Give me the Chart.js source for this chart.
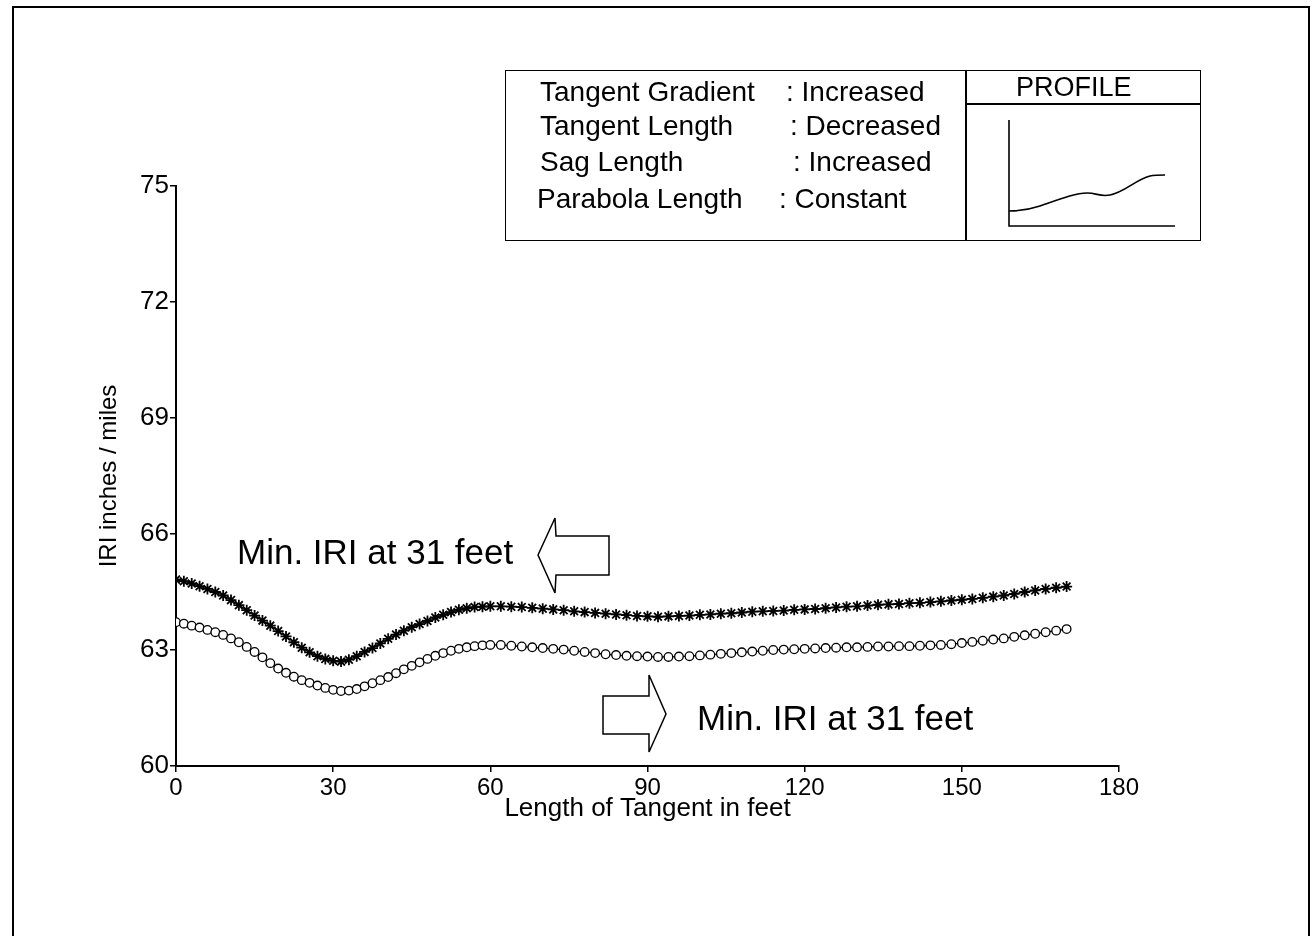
<!DOCTYPE html>
<html><head><meta charset="utf-8">
<script src="https://cdn.jsdelivr.net/npm/chart.js@4.4.0/dist/chart.umd.min.js"></script>
<style>
body{margin:0;background:#fff;}
#wrap{position:relative;width:1315px;height:936px;overflow:hidden;font-family:"Liberation Sans",Arial,sans-serif;color:#000;background:#fff;}
canvas{position:absolute;left:0;top:0;}
.t{position:absolute;white-space:nowrap;line-height:1;}
.box{position:absolute;border:1.5px solid #000;box-sizing:border-box;}
.ln{position:absolute;background:#000;}
</style></head>
<body><div id="wrap">
<canvas id="c" width="1315" height="936"></canvas>
<div class="box" style="left:12px;top:6px;width:1298px;height:960px;border-width:2px;"></div>
<div class="box" style="left:505px;top:70px;width:696px;height:171px;"></div>
<div class="ln" style="left:965px;top:70px;width:1.5px;height:171px;"></div>
<div class="ln" style="left:966px;top:103px;width:234px;height:1.5px;"></div>
<div class="t" style="left:1016px;top:74px;font-size:27px;">PROFILE</div>
<div class="t" style="left:540px;top:78px;font-size:28px;">Tangent Gradient</div>
<div class="t" style="left:786px;top:78px;font-size:28px;">: Increased</div>
<div class="t" style="left:540px;top:112px;font-size:28px;">Tangent Length</div>
<div class="t" style="left:790px;top:112px;font-size:28px;">: Decreased</div>
<div class="t" style="left:540px;top:148px;font-size:28px;">Sag Length</div>
<div class="t" style="left:793px;top:148px;font-size:28px;">: Increased</div>
<div class="t" style="left:537px;top:185px;font-size:28px;">Parabola Length</div>
<div class="t" style="left:779px;top:185px;font-size:28px;">: Constant</div>
<svg style="position:absolute;left:0;top:0" width="1315" height="936">
  <g fill="none" stroke="#000" stroke-width="1.6">
    <path d="M1009 120 L1009 226 L1175 226"/>
    <path d="M1009 211 C1020 211 1028 210 1040 206 C1060 199 1075 193 1087 193 C1097 193 1100 197 1110 195 C1125 192 1135 180 1150 176 C1155 175 1160 175 1165 175"/>
    <path d="M538 555 L555 518 L556 536 L609 536 L609 575 L556 575 L555 593 Z" stroke-width="1.5"/>
    <path d="M603 696 L649 696 L649 675 L666 714 L649 752 L649 734 L603 734 Z" stroke-width="1.5"/>
  </g>
</svg>
<div class="t" style="left:237px;top:534px;font-size:35px;">Min. IRI at 31 feet</div>
<div class="t" style="left:697px;top:700px;font-size:35px;">Min. IRI at 31 feet</div>
</div>
<script>
const xValues = [0,1.5,3,4.5,6,7.5,9,10.5,12,13.5,15,16.5,18,19.5,21,22.5,24,25.5,27,28.5,30,31.5,33,34.5,36,37.5,39,40.5,42,43.5,45,46.5,48,49.5,51,52.5,54,55.5,57,58.5,60,
62,64,66,68,70,72,74,76,78,80,82,84,86,88,90,92,94,96,98,100,102,104,106,108,110,112,114,116,118,120,122,124,126,128,130,132,134,136,138,140,142,144,146,148,150,152,154,156,158,160,162,164,166,168,170];
const starSeries = [64.82,64.78,64.72,64.65,64.58,64.50,64.41,64.29,64.16,64.03,63.89,63.76,63.63,63.49,63.35,63.20,63.06,62.94,62.84,62.77,62.72,62.70,62.75,62.84,62.95,63.05,63.17,63.29,63.40,63.50,63.59,63.67,63.75,63.84,63.91,63.98,64.04,64.08,64.11,64.12,64.13,
64.13,64.12,64.11,64.09,64.07,64.05,64.03,64.00,63.98,63.96,63.94,63.92,63.90,63.88,63.87,63.86,63.87,63.88,63.89,63.91,63.92,63.94,63.95,63.97,63.99,64.00,64.01,64.02,64.04,64.05,64.06,64.08,64.10,64.12,64.13,64.15,64.17,64.18,64.19,64.21,64.22,64.24,64.26,64.28,64.30,64.32,64.35,64.38,64.41,64.45,64.50,64.54,64.58,64.61,64.64];
const circleSeries = [63.72,63.68,63.63,63.58,63.52,63.46,63.39,63.30,63.20,63.08,62.95,62.81,62.66,62.52,62.41,62.31,62.22,62.15,62.08,62.02,61.97,61.94,61.95,61.99,62.06,62.14,62.22,62.30,62.40,62.50,62.59,62.68,62.77,62.85,62.92,62.98,63.03,63.07,63.10,63.12,63.13,
63.13,63.11,63.09,63.07,63.05,63.03,63.01,62.98,62.95,62.92,62.89,62.87,62.85,62.84,62.83,62.82,62.82,62.83,62.84,62.86,62.88,62.90,62.92,62.94,62.96,62.98,63.00,63.01,63.02,63.03,63.04,63.05,63.06,63.07,63.07,63.08,63.09,63.09,63.10,63.10,63.11,63.12,63.13,63.15,63.18,63.21,63.24,63.27,63.30,63.34,63.38,63.42,63.46,63.50,63.54];
const xTicks = [0,30,60,90,120,150,180];
const yTicks = [60,63,66,69,72,75];

const toPts = (ys) => ys.map((y, i) => ({x: xValues[i], y}));

new Chart(document.getElementById('c'), {
  type: 'line',
  data: {
    datasets: [
      {label: 'stars', data: toPts(starSeries), borderColor: '#000', borderWidth: 1.3, pointStyle: 'star', pointRadius: 5.5, pointBorderColor: '#000', pointBorderWidth: 1.8, pointBackgroundColor: '#000', tension: 0},
      {label: 'circles', data: toPts(circleSeries), borderColor: '#000', borderWidth: 1.3, pointStyle: 'circle', pointRadius: 4.3, pointBorderColor: '#000', pointBorderWidth: 1.3, pointBackgroundColor: '#fff', tension: 0}
    ]
  },
  options: {
    responsive: false,
    animation: false,
    events: [],
    layout: {padding: {top: 186, left: 0, right: 196, bottom: 110}},
    plugins: {legend: {display: false}, tooltip: {enabled: false}},
    scales: {
      x: {
        type: 'linear', min: 0, max: 180,
        afterBuildTicks: s => { s.ticks = xTicks.map(v => ({value: v})); },
        afterFit: s => { s.height = 60; },
        grid: {display: true, drawOnChartArea: false, drawTicks: true, tickLength: 6, color: '#000', lineWidth: 1.5},
        border: {display: true, color: '#000', width: 2},
        ticks: {color: '#000', font: {family: 'Liberation Sans', size: 24}, padding: 2, maxRotation: 0},
        title: {display: true, text: 'Length of Tangent in feet', color: '#000', font: {family: 'Liberation Sans', size: 26}, padding: {top: 0, bottom: 2}}
      },
      y: {
        min: 60, max: 75,
        afterBuildTicks: s => { s.ticks = yTicks.map(v => ({value: v})); },
        afterFit: s => { s.width = 176; },
        grid: {display: true, drawOnChartArea: false, drawTicks: true, tickLength: 6, color: '#000', lineWidth: 1.5},
        border: {display: true, color: '#000', width: 2},
        ticks: {color: '#000', font: {family: 'Liberation Sans', size: 26}, padding: 1},
        title: {display: true, text: 'IRI inches / miles', color: '#000', font: {family: 'Liberation Sans', size: 24}, padding: {top: 95, bottom: 0}}
      }
    }
  }
});
</script>
</body></html>
